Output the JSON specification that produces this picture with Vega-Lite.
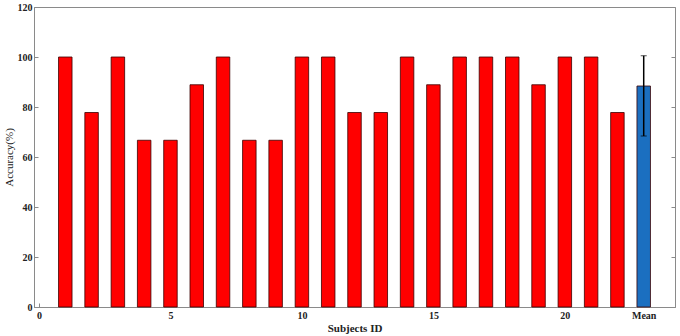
{
  "$schema": "https://vega.github.io/schema/vega-lite/v6.json",
  "autosize": "none",
  "padding": {"left": 34, "top": 7, "right": 5, "bottom": 29},
  "width": 641,
  "height": 300,
  "background": "white",
  "config": {
    "view": {"stroke": "#8a8a8a", "strokeWidth": 1},
    "font": "Liberation Serif",
    "axis": {
      "grid": false,
      "domainColor": "#8a8a8a",
      "tickColor": "#8a8a8a",
      "labelColor": "#222222",
      "titleColor": "#222222",
      "labelFont": "Liberation Serif",
      "titleFont": "Liberation Serif",
      "labelFontSize": 10,
      "titleFontSize": 11,
      "titleFontWeight": "normal",
      "labelFontWeight": "bold"
    }
  },
  "data": {
    "values": [
      {"id": 1, "acc": 100, "group": "subject"},
      {"id": 2, "acc": 77.8, "group": "subject"},
      {"id": 3, "acc": 100, "group": "subject"},
      {"id": 4, "acc": 66.7, "group": "subject"},
      {"id": 5, "acc": 66.7, "group": "subject"},
      {"id": 6, "acc": 88.9, "group": "subject"},
      {"id": 7, "acc": 100, "group": "subject"},
      {"id": 8, "acc": 66.7, "group": "subject"},
      {"id": 9, "acc": 66.7, "group": "subject"},
      {"id": 10, "acc": 100, "group": "subject"},
      {"id": 11, "acc": 100, "group": "subject"},
      {"id": 12, "acc": 77.8, "group": "subject"},
      {"id": 13, "acc": 77.8, "group": "subject"},
      {"id": 14, "acc": 100, "group": "subject"},
      {"id": 15, "acc": 88.9, "group": "subject"},
      {"id": 16, "acc": 100, "group": "subject"},
      {"id": 17, "acc": 100, "group": "subject"},
      {"id": 18, "acc": 100, "group": "subject"},
      {"id": 19, "acc": 88.9, "group": "subject"},
      {"id": 20, "acc": 100, "group": "subject"},
      {"id": 21, "acc": 100, "group": "subject"},
      {"id": 22, "acc": 77.8, "group": "subject"},
      {"id": 23, "acc": 88.4, "group": "mean", "lo": 68.4, "hi": 100.5}
    ]
  },
  "resolve": {"axis": {"y": "independent"}},
  "layer": [
    {
      "mark": {"type": "bar", "width": 13.5, "stroke": "#3a0000", "strokeWidth": 0.8},
      "encoding": {
        "x": {
          "field": "id",
          "type": "quantitative",
          "scale": {"domain": [0, 24], "nice": false, "zero": false},
          "axis": {
            "title": "Subjects ID",
            "titleFontWeight": "bold",
            "values": [0, 5, 10, 15, 20, 23],
            "labelExpr": "datum.value == 23 ? 'Mean' : datum.label",
            "tickSize": -4,
            "labelPadding": 7,
            "titlePadding": 2
          }
        },
        "y": {
          "field": "acc",
          "type": "quantitative",
          "scale": {"domain": [0, 120], "nice": false},
          "axis": {
            "title": "Accuracy(%)",
            "values": [0, 20, 40, 60, 80, 100, 120],
            "tickSize": -4,
            "labelPadding": 6,
            "titlePadding": 3
          }
        },
        "color": {
          "field": "group",
          "type": "nominal",
          "scale": {"domain": ["subject", "mean"], "range": ["#ff0000", "#1b6fc0"]},
          "legend": null
        }
      }
    },
    {
      "transform": [{"filter": "datum.group == 'mean'"}],
      "mark": {"type": "errorbar", "ticks": {"color": "black", "strokeWidth": 1.5, "size": 6}, "rule": {"color": "black", "strokeWidth": 1.5}},
      "encoding": {
        "x": {"field": "id", "type": "quantitative"},
        "y": {
          "field": "lo",
          "type": "quantitative",
          "scale": {"domain": [0, 120], "nice": false},
          "axis": {
            "orient": "right",
            "title": null,
            "labels": false,
            "values": [0, 20, 40, 60, 80, 100, 120],
            "tickSize": -4,
            "domain": false
          }
        },
        "y2": {"field": "hi"}
      }
    }
  ]
}
